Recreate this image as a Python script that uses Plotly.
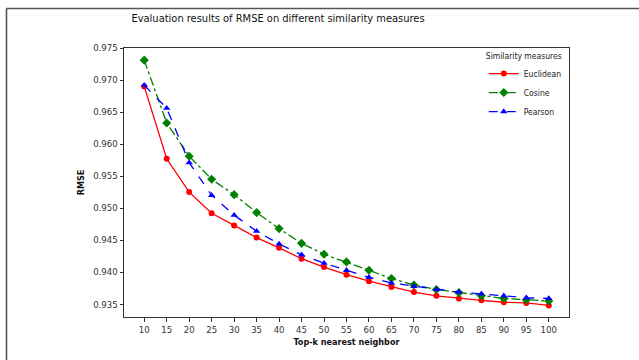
import plotly.graph_objects as go

k_values = [10, 15, 20, 25, 30, 35, 40, 45, 50, 55, 60, 65, 70, 75, 80, 85, 90, 95, 100]
euclidean = [0.9690, 0.9577, 0.9525, 0.9492, 0.9473, 0.9454, 0.9438, 0.9421, 0.9408, 0.9396,
             0.9386, 0.9377, 0.9369, 0.9363, 0.9359, 0.9356, 0.9353, 0.9352, 0.9348]
cosine = [0.9731, 0.9633, 0.9581, 0.9545, 0.9521, 0.9493, 0.9468, 0.9445, 0.9428, 0.9416,
          0.9403, 0.9390, 0.9380, 0.9373, 0.9368, 0.9363, 0.9359, 0.9357, 0.9355]
pearson = [0.9692, 0.9656, 0.9571, 0.9520, 0.9489, 0.9464, 0.9444, 0.9427, 0.9414, 0.9403,
           0.9392, 0.9383, 0.9378, 0.9373, 0.9369, 0.9366, 0.9363, 0.9360, 0.9359]
y_ticks = [0.935, 0.940, 0.945, 0.950, 0.955, 0.960, 0.965, 0.970, 0.975]

W, H = 639, 360
ML, MR, MT, MB = 124, 70, 48, 43
PW, PH = W - ML - MR, H - MT - MB

fnt = "DejaVu Sans Condensed, Liberation Sans Narrow, DejaVu Sans, sans-serif"

fig = go.Figure()
fig.add_trace(go.Scatter(x=k_values, y=euclidean, name="Euclidean", mode="lines+markers",
                         line=dict(color="#ff0000", width=1.3, dash="solid"),
                         marker=dict(symbol="circle", size=6, color="#ff0000")))
fig.add_trace(go.Scatter(x=k_values, y=cosine, name="Cosine", mode="lines+markers",
                         line=dict(color="#008000", width=1.3, dash="dashdot"),
                         marker=dict(symbol="diamond", size=7, color="#008000")))
fig.add_trace(go.Scatter(x=k_values, y=pearson, name="Pearson", mode="lines+markers",
                         line=dict(color="#0000ff", width=1.3, dash="dash"),
                         marker=dict(symbol="triangle-up", size=6.5, color="#0000ff")))

axis_common = dict(showgrid=False, zeroline=False, showline=True, linecolor="#333333",
                   linewidth=1, mirror=True, ticks="outside", ticklen=3.5, tickwidth=1,
                   tickcolor="#333333", automargin=False,
                   tickfont=dict(size=9.5, color="#333333", family=fnt))

fig.update_xaxes(range=[5.5, 104.5], tickmode="array", tickvals=k_values,
                 ticktext=[str(k) for k in k_values],
                 title=dict(text="<b>Top-k nearest neighbor</b>", standoff=4,
                            font=dict(size=9, color="#111111", family=fnt)),
                 **axis_common)
fig.update_yaxes(range=[0.933, 0.975], tickmode="array", tickvals=y_ticks,
                 ticktext=[f"{v:.3f}" for v in y_ticks],
                 title=dict(text="<b>RMSE</b>", standoff=6,
                            font=dict(size=9, color="#111111", family=fnt)),
                 **axis_common)

# figure border lines (left and top)
bx = (6.5 - ML) / PW
by = 1 + (MT - 8.5) / PH
fig.add_shape(type="line", xref="paper", yref="paper", x0=bx, x1=(W + 10 - ML) / PW,
              y0=by, y1=by, line=dict(color="#555555", width=1.6))
fig.add_shape(type="line", xref="paper", yref="paper", x0=bx, x1=bx,
              y0=by, y1=-(MB + 10) / PH, line=dict(color="#555555", width=1.6))

fig.update_layout(
    width=W, height=H,
    margin=dict(l=ML, r=MR, t=MT, b=MB, autoexpand=False),
    paper_bgcolor="white", plot_bgcolor="white",
    title=dict(text="Evaluation results of RMSE on different similarity measures",
               x=278 / W, xanchor="center", y=1 - 18 / H, yanchor="middle",
               font=dict(size=11, color="#111111", family=fnt)),
    legend=dict(title=dict(text="Similarity measures", side="top",
                           font=dict(size=8.5, color="#222222", family=fnt)),
                font=dict(size=8.5, color="#222222", family=fnt),
                x=0.995, xanchor="right", y=1.0, yanchor="top",
                bgcolor="rgba(255,255,255,0)", borderwidth=0,
                itemwidth=30, tracegroupgap=0),
    showlegend=True,
)

fig.write_html("out.html", config={"displayModeBar": False},
               post_script="document.body.style.margin='0';document.body.style.overflow='hidden';")
